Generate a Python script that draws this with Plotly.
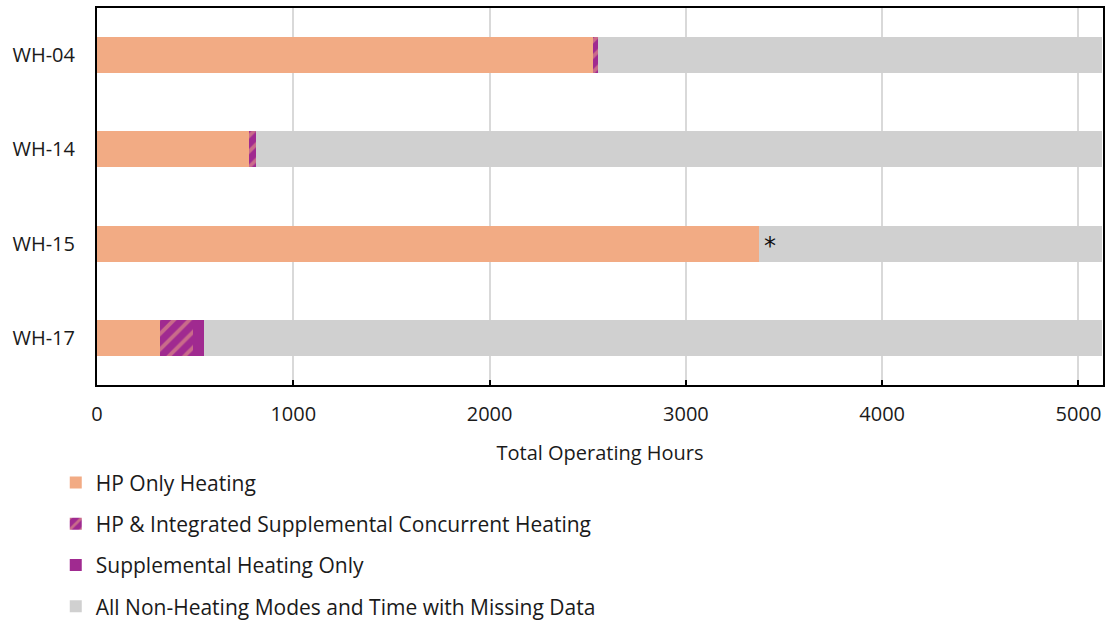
import plotly.graph_objects as go

# Water heater IDs and hours spent in each operating mode
units = ["WH-04", "WH-14", "WH-15", "WH-17"]
hp_only = [2528, 772, 3370, 321]
concurrent = [24, 40, 0, 169]
supp_only = [0, 0, 0, 56]
total_hours = [5120, 5120, 5120, 5120]
non_heating = [t - a - b - c for t, a, b, c in zip(total_hours, hp_only, concurrent, supp_only)]

x_ticks = [0, 1000, 2000, 3000, 4000, 5000]

ORANGE = "#F2AB84"
PURPLE = "#A02A90"
GREY = "#D0D0D0"
FONT = "Open Sans"
TEXT = "#1A1A1A"

fig = go.Figure()
fig.add_trace(go.Bar(
    y=units, x=hp_only, orientation="h", name="HP Only Heating",
    marker=dict(color=ORANGE, line=dict(width=0)), legendgroup="a",
))
fig.add_trace(go.Bar(
    y=units, x=concurrent, orientation="h",
    name="HP & Integrated Supplemental Concurrent Heating",
    marker=dict(color=PURPLE, line=dict(width=0),
                pattern=dict(shape="/", fgcolor=ORANGE, bgcolor=PURPLE,
                             size=11, solidity=0.35, fillmode="overlay")),
    legendgroup="b",
))
fig.add_trace(go.Bar(
    y=units, x=supp_only, orientation="h", name="Supplemental Heating Only",
    marker=dict(color=PURPLE, line=dict(width=0)), legendgroup="c",
))
fig.add_trace(go.Bar(
    y=units, x=non_heating, orientation="h",
    name="All Non-Heating Modes and Time with Missing Data",
    marker=dict(color=GREY, line=dict(width=0)), legendgroup="d",
))

# Asterisk note after the WH-15 heat-pump segment
fig.add_annotation(
    x=hp_only[2], y="WH-15", text="*", showarrow=False,
    xanchor="left", xshift=3, yshift=-2,
    font=dict(family="DejaVu Sans", size=24, color="#111111"),
)

fig.update_layout(
    width=1110, height=622,
    margin=dict(l=97, r=7, t=8, b=237, autoexpand=False),
    barmode="stack", bargap=0.62,
    plot_bgcolor="white", paper_bgcolor="white",
    font=dict(family=FONT, size=20, color=TEXT),
    legend=dict(
        x=-0.041, xanchor="left", y=-0.205, yanchor="top",
        orientation="v", traceorder="grouped", tracegroupgap=11,
        font=dict(family=FONT, size=21, color=TEXT),
        bgcolor="rgba(0,0,0,0)",
    ),
    xaxis=dict(
        range=[0, 5125], tickvals=x_ticks,
        ticks="inside", ticklen=5, tickcolor="black", tickwidth=1.5,
        showgrid=True, gridcolor="#D9D9D9", gridwidth=1.5,
        showline=True, linecolor="black", linewidth=2, mirror=True,
        zeroline=False, ticklabelstandoff=10,
        tickfont=dict(family=FONT, size=20, color=TEXT),
        title=dict(text="Total Operating Hours", standoff=20,
                   font=dict(family=FONT, size=20, color=TEXT)),
    ),
    yaxis=dict(
        autorange="reversed", showgrid=False,
        showline=True, linecolor="black", linewidth=2, mirror=True,
        ticks="", ticklabelstandoff=16,
        tickfont=dict(family=FONT, size=20, color=TEXT),
    ),
)

fig.write_html("out.html")
